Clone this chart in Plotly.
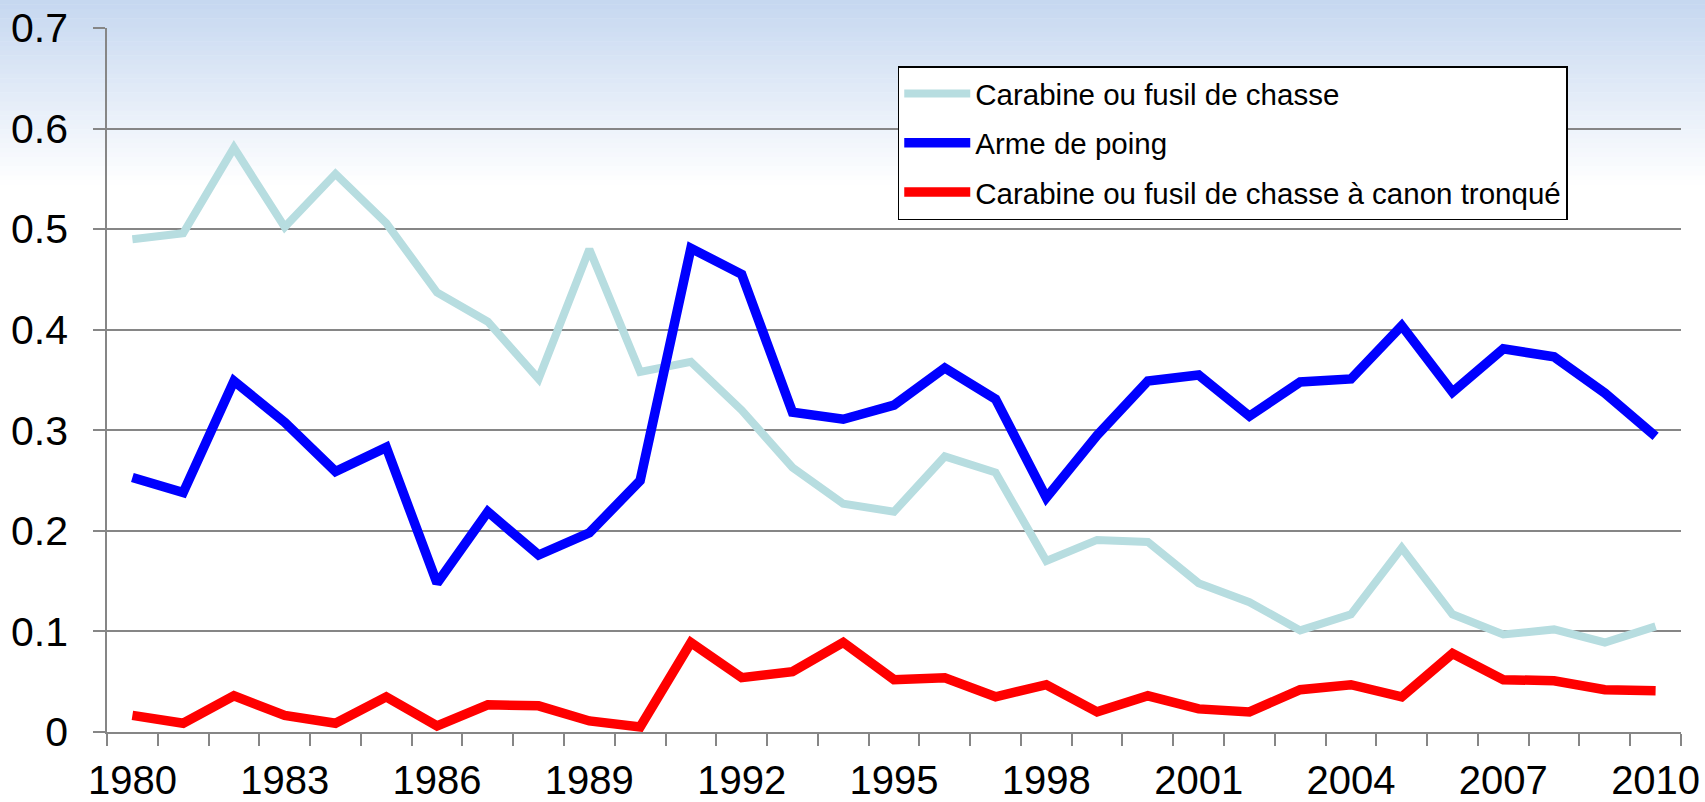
import plotly.graph_objects as go

years = list(range(1980, 2011))
carabine = [0.490, 0.496, 0.581, 0.502, 0.555, 0.506, 0.437, 0.408, 0.351, 0.480,
            0.358, 0.368, 0.320, 0.263, 0.227, 0.219, 0.274, 0.258, 0.170, 0.191,
            0.189, 0.148, 0.129, 0.101, 0.117, 0.183, 0.117, 0.097, 0.102, 0.089, 0.105]
poing = [0.253, 0.238, 0.349, 0.308, 0.259, 0.283, 0.148, 0.219, 0.176, 0.198,
         0.250, 0.481, 0.455, 0.318, 0.311, 0.325, 0.362, 0.331, 0.233, 0.295,
         0.349, 0.355, 0.314, 0.348, 0.351, 0.404, 0.338, 0.381, 0.373, 0.337, 0.294]
tronque = [0.0165, 0.0087, 0.036, 0.0165, 0.0087, 0.035, 0.006, 0.027, 0.026, 0.011,
           0.005, 0.089, 0.054, 0.060, 0.089, 0.052, 0.054, 0.035, 0.047, 0.020,
           0.036, 0.023, 0.020, 0.042, 0.047, 0.035, 0.078, 0.052, 0.051, 0.042, 0.041]
names = ["Carabine ou fusil de chasse", "Arme de poing",
         "Carabine ou fusil de chasse à canon tronqué"]
colors = ["#b7dde0", "#0000ff", "#ff0000"]
widths = [8, 9.5, 9.5]
tick_years = list(range(1980, 2011, 3))
y_ticks = [0, 0.1, 0.2, 0.3, 0.4, 0.5, 0.6, 0.7]

fig = go.Figure()
for i, (name, vals) in enumerate(zip(names, [carabine, poing, tronque])):
    fig.add_trace(go.Scatter(x=years, y=vals, mode="lines", name=name,
                             legendgroup=f"g{i}",
                             line=dict(color=colors[i], width=widths[i])))

# background gradient (decoration) across the top of the page
W, H = 1705, 802
bands = 40
top_c = (197, 215, 240)
grad_h = 185
shapes = []
ml, mr, mt, mb = 107.3, 24, 28.3, 70
pw, ph = W - ml - mr, H - mt - mb
for k in range(bands):
    y0p = k * grad_h / bands
    y1p = (k + 1) * grad_h / bands + 0.5
    t = (k + 0.5) / bands
    c = tuple(int(round(tc + (255 - tc) * t)) for tc in top_c)
    shapes.append(dict(type="rect", layer="below", xref="paper", yref="paper",
                       x0=-ml / pw, x1=1 + mr / pw,
                       y0=1 - (y1p - mt) / ph, y1=1 - (y0p - mt) / ph,
                       fillcolor=f"rgb{c}", line=dict(width=0)))

fig.update_layout(
    width=W, height=H,
    margin=dict(l=ml, r=mr, t=mt, b=mb, autoexpand=False),
    paper_bgcolor="white", plot_bgcolor="rgba(0,0,0,0)",
    font=dict(family="Liberation Sans, Arial, sans-serif", color="black"),
    shapes=shapes,
    showlegend=True,
    legend=dict(x=(897.9 - ml) / pw, y=(H - mb - 66.5) / ph, xanchor="left", yanchor="top",
                bgcolor="white", bordercolor="black", borderwidth=1.5,
                font=dict(size=29.5, color="black"), tracegroupgap=8,
                itemwidth=66),
    xaxis=dict(range=[1979.5, 2010.5], tickvals=tick_years, ticktext=[str(y) for y in tick_years],
               ticks="", showgrid=False, showline=True, linecolor="#868686", linewidth=1.5,
               tickfont=dict(size=40), zeroline=False, automargin=False,
               ticklabelstandoff=12,
               minor=dict(ticks="outside", ticklen=12, tickcolor="#868686", tickwidth=1.5,
                          tick0=1979.5, dtick=1, showgrid=False)),
    yaxis=dict(range=[0, 0.7], tickvals=y_ticks, ticktext=["0", "0.1", "0.2", "0.3", "0.4", "0.5", "0.6", "0.7"],
               ticks="outside", ticklen=12, tickcolor="#868686", tickwidth=1.5,
               showgrid=True, gridcolor="#868686", gridwidth=1.5, automargin=False,
               showline=True, linecolor="#868686", linewidth=1.5, zeroline=False,
               tickfont=dict(size=41), ticklabelstandoff=17),
)

fig.write_html("out.html", config={"displayModeBar": False},
               post_script="document.body.style.margin='0';document.body.style.overflow='hidden';")
